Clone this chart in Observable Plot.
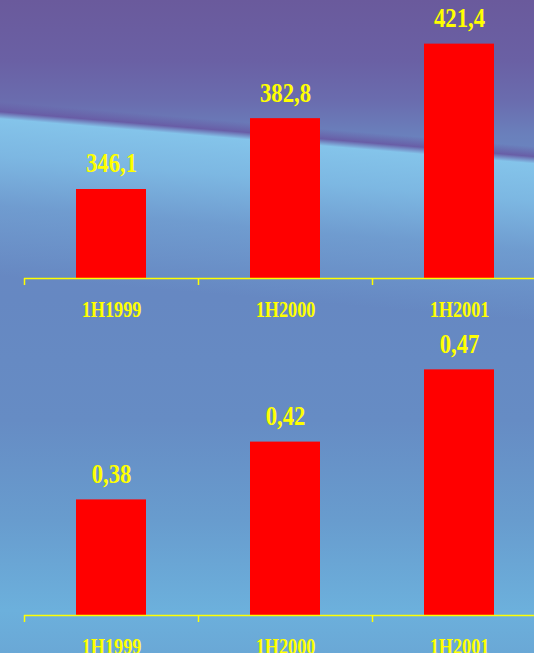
<!DOCTYPE html>
<html>
<head>
<meta charset="utf-8">
<script src="https://cdn.jsdelivr.net/npm/d3@7"></script>
<script src="https://cdn.jsdelivr.net/npm/@observablehq/plot@0.6"></script>
<style>
  html, body { margin: 0; padding: 0; }
  #chart {
    width: 534px; height: 653px; overflow: hidden; position: relative;
    background:
      linear-gradient(184.8deg,
        rgba(0,0,0,0) 0px,
        rgba(104,92,164,0) 146px,
        rgba(104,90,164,0.9) 156px,
        rgba(132,196,234,1) 163px,
        rgba(128,192,232,0.85) 200px,
        rgba(120,180,224,0.45) 250px,
        rgba(0,0,0,0) 320px),
      linear-gradient(180deg,
        #6a5a9c 0px, #6a60a4 60px, #6a6cae 100px, #6a80bc 135px, #6a88c2 170px,
        #6688c2 300px, #668cc4 420px, #689cce 520px, #6cb0dc 610px, #6aa8d6 653px);
  }
</style>
</head>
<body>
<div id="chart"></div>
<script>
const periods = ["1H1999", "1H2000", "1H2001"];
const topValues = [346.1, 382.8, 421.4];
const bottomValues = [0.38, 0.42, 0.47];

const locale = d3.formatLocale({decimal: ",", thousands: ".", grouping: [3], currency: ["", ""]});
const fmt1 = locale.format(".1f");
const fmt2 = locale.format(".2f");

const yellow = "#ffff00";
const serif = "'Liberation Serif', 'Times New Roman', serif";

function panel(values, domain, fmt, height, marginBottom) {
  const data = periods.map((p, i) => ({period: p, value: values[i]}));
  const svg = Plot.plot({
    width: 534,
    height,
    marginTop: 0,
    marginBottom,
    marginLeft: 24,
    marginRight: 0,
    style: {background: "transparent", overflow: "visible"},
    x: {domain: periods, range: [24, 546], paddingInner: 0.6, paddingOuter: 0.3, axis: null},
    y: {domain, axis: null},
    marks: [
      Plot.barY(data, {x: "period", y1: domain[0], y2: "value", fill: "#ff0000"}),
      Plot.ruleY([domain[0]], {stroke: yellow, strokeWidth: 1.5}),
      Plot.ruleX(periods, {x: d => d, y1: domain[0], y2: domain[0], insetBottom: -7, dx: -87, stroke: yellow, strokeWidth: 1.5}),
      Plot.text(data, {x: "period", y: "value", text: d => fmt(d.value), dy: -26,
        fill: yellow, fontSize: 28, fontWeight: "bold", fontFamily: serif}),
      Plot.text(periods, {x: d => d, y: domain[0], dy: 31, text: d => d,
        fill: yellow, fontSize: 22.5, fontWeight: "bold", fontFamily: serif})
    ]
  });
  // condensed lettering, as in the original: squeeze text horizontally about its anchor
  svg.querySelectorAll("text").forEach(t => {
    const tr = t.getAttribute("transform") || "";
    t.setAttribute("transform", (tr + " scale(0.81,1)").trim());
  });
  return svg;
}

const chart = document.getElementById("chart");
chart.appendChild(panel(topValues, [300, 444], fmt1, 326, 48));
chart.appendChild(panel(bottomValues, [0.30, 0.50], fmt2, 327, 38));
</script>
</body>
</html>
